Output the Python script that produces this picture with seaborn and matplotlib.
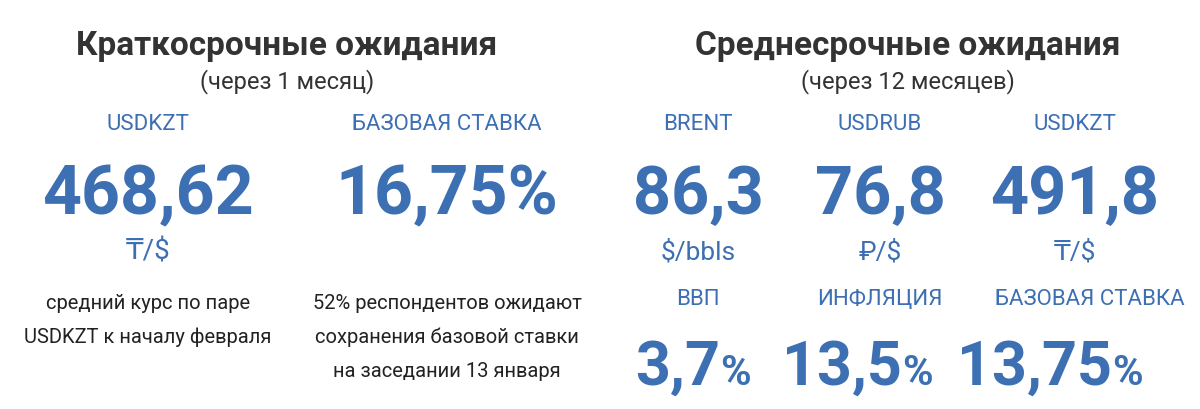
import matplotlib
matplotlib.use("Agg")
import matplotlib.pyplot as plt
import seaborn as sns

sns.set_theme(style="white")
plt.rcParams['font.family'] = ['Roboto', 'DejaVu Sans']

BLUE = "#3d6fb3"
DARK = "#333333"

# data
short_labels = ["USDKZT", "БАЗОВАЯ СТАВКА"]
short_values = ["468,62", "16,75%"]
short_units = ["₸/$", ""]
short_notes = [["средний курс по паре", "USDKZT к началу февраля"],
               ["52% респондентов ожидают", "сохранения базовой ставки",
                "на заседании 13 января"]]
mid_labels = ["BRENT", "USDRUB", "USDKZT"]
mid_values = ["86,3", "76,8", "491,8"]
mid_units = ["$/bbls", "₽/$", "₸/$"]
macro_labels = ["ВВП", "ИНФЛЯЦИЯ", "БАЗОВАЯ СТАВКА"]
macro_values = ["3,7", "13,5", "13,75"]

W, H = 1200, 410
fig = plt.figure(figsize=(12, 4.1), dpi=100)
ax = fig.add_axes([0, 0, 1, 1])
ax.set_xlim(0, W)
ax.set_ylim(H, 0)
ax.axis("off")

def t(x, y, s, size, color=DARK, weight="bold", ha="center", va="baseline"):
    ax.text(x, y, s, fontsize=size, color=color, weight=weight, ha=ha, va=va,
            family=['Roboto', 'DejaVu Sans'])

t(287, 55, "Краткосрочные ожидания", 24)
t(287, 88, "(через 1 месяц)", 17, weight="normal")
t(908, 55, "Среднесрочные ожидания", 24)
t(908, 88, "(через 12 месяцев)", 17, weight="normal")

short_x = [148, 447]
for x, lab, val, unit, note in zip(short_x, short_labels, short_values, short_units, short_notes):
    t(x, 130, lab, 16, BLUE, weight="normal")
    t(x, 214, val, 49, BLUE)
    if unit:
        t(x, 260, unit, 20, BLUE, weight="normal")
    for i, line in enumerate(note):
        t(x, 309 + 34 * i, line, 14.5, "#222222", weight="normal")

mid_x = [698, 880, 1075]
for x, lab, val, unit in zip(mid_x, mid_labels, mid_values, mid_units):
    t(x, 130, lab, 16, BLUE, weight="normal")
    t(x, 214, val, 48, BLUE)
    t(x, 260, unit, 19, BLUE, weight="normal")

macro_x = [698, 880, 1090]
for x, lab, val in zip(macro_x, macro_labels, macro_values):
    t(x, 305, lab, 16, BLUE, weight="normal")
    t(x + 22, 385, val, 44, BLUE, ha="right")
    t(x + 22, 385, "%", 30, BLUE, ha="left")

fig.savefig("out.png", dpi=100, facecolor="white")
